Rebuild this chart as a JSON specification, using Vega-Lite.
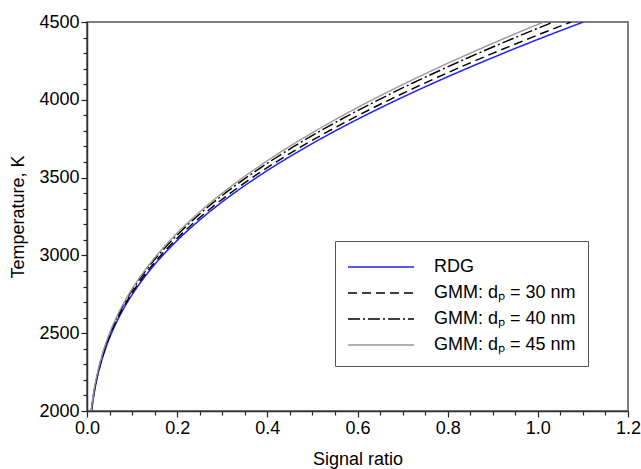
{
  "$schema": "https://vega.github.io/schema/vega-lite/v6.json",
  "width": 541,
  "height": 389,
  "autosize": {"type": "none"},
  "padding": {"left": 87, "top": 22, "right": 13, "bottom": 58},
  "background": "white",
  "config": {
    "view": {"stroke": "#555555", "strokeWidth": 1.5},
    "font": "Liberation Sans"
  },
  "data": {
    "values": [
      {"series": "RDG", "ratio": 0.01001, "T": 2000},
      {"series": "RDG", "ratio": 0.01497, "T": 2100},
      {"series": "RDG", "ratio": 0.02160, "T": 2200},
      {"series": "RDG", "ratio": 0.03017, "T": 2300},
      {"series": "RDG", "ratio": 0.04100, "T": 2400},
      {"series": "RDG", "ratio": 0.05435, "T": 2500},
      {"series": "RDG", "ratio": 0.07051, "T": 2600},
      {"series": "RDG", "ratio": 0.08974, "T": 2700},
      {"series": "RDG", "ratio": 0.11225, "T": 2800},
      {"series": "RDG", "ratio": 0.13825, "T": 2900},
      {"series": "RDG", "ratio": 0.16793, "T": 3000},
      {"series": "RDG", "ratio": 0.20146, "T": 3100},
      {"series": "RDG", "ratio": 0.23894, "T": 3200},
      {"series": "RDG", "ratio": 0.28044, "T": 3300},
      {"series": "RDG", "ratio": 0.32608, "T": 3400},
      {"series": "RDG", "ratio": 0.37591, "T": 3500},
      {"series": "RDG", "ratio": 0.42995, "T": 3600},
      {"series": "RDG", "ratio": 0.48820, "T": 3700},
      {"series": "RDG", "ratio": 0.55066, "T": 3800},
      {"series": "RDG", "ratio": 0.61724, "T": 3900},
      {"series": "RDG", "ratio": 0.68801, "T": 4000},
      {"series": "RDG", "ratio": 0.76278, "T": 4100},
      {"series": "RDG", "ratio": 0.84157, "T": 4200},
      {"series": "RDG", "ratio": 0.92423, "T": 4300},
      {"series": "RDG", "ratio": 1.01067, "T": 4400},
      {"series": "RDG", "ratio": 1.10100, "T": 4500},
      {"series": "GMM: dₚ = 30 nm", "ratio": 0.00976, "T": 2000},
      {"series": "GMM: dₚ = 30 nm", "ratio": 0.01460, "T": 2100},
      {"series": "GMM: dₚ = 30 nm", "ratio": 0.02106, "T": 2200},
      {"series": "GMM: dₚ = 30 nm", "ratio": 0.02942, "T": 2300},
      {"series": "GMM: dₚ = 30 nm", "ratio": 0.03998, "T": 2400},
      {"series": "GMM: dₚ = 30 nm", "ratio": 0.05299, "T": 2500},
      {"series": "GMM: dₚ = 30 nm", "ratio": 0.06875, "T": 2600},
      {"series": "GMM: dₚ = 30 nm", "ratio": 0.08750, "T": 2700},
      {"series": "GMM: dₚ = 30 nm", "ratio": 0.10944, "T": 2800},
      {"series": "GMM: dₚ = 30 nm", "ratio": 0.13479, "T": 2900},
      {"series": "GMM: dₚ = 30 nm", "ratio": 0.16373, "T": 3000},
      {"series": "GMM: dₚ = 30 nm", "ratio": 0.19642, "T": 3100},
      {"series": "GMM: dₚ = 30 nm", "ratio": 0.23297, "T": 3200},
      {"series": "GMM: dₚ = 30 nm", "ratio": 0.27343, "T": 3300},
      {"series": "GMM: dₚ = 30 nm", "ratio": 0.31793, "T": 3400},
      {"series": "GMM: dₚ = 30 nm", "ratio": 0.36651, "T": 3500},
      {"series": "GMM: dₚ = 30 nm", "ratio": 0.41920, "T": 3600},
      {"series": "GMM: dₚ = 30 nm", "ratio": 0.47600, "T": 3700},
      {"series": "GMM: dₚ = 30 nm", "ratio": 0.53689, "T": 3800},
      {"series": "GMM: dₚ = 30 nm", "ratio": 0.60181, "T": 3900},
      {"series": "GMM: dₚ = 30 nm", "ratio": 0.67081, "T": 4000},
      {"series": "GMM: dₚ = 30 nm", "ratio": 0.74371, "T": 4100},
      {"series": "GMM: dₚ = 30 nm", "ratio": 0.82053, "T": 4200},
      {"series": "GMM: dₚ = 30 nm", "ratio": 0.90112, "T": 4300},
      {"series": "GMM: dₚ = 30 nm", "ratio": 0.98540, "T": 4400},
      {"series": "GMM: dₚ = 30 nm", "ratio": 1.07348, "T": 4500},
      {"series": "GMM: dₚ = 40 nm", "ratio": 0.00941, "T": 2000},
      {"series": "GMM: dₚ = 40 nm", "ratio": 0.01407, "T": 2100},
      {"series": "GMM: dₚ = 40 nm", "ratio": 0.02030, "T": 2200},
      {"series": "GMM: dₚ = 40 nm", "ratio": 0.02836, "T": 2300},
      {"series": "GMM: dₚ = 40 nm", "ratio": 0.03854, "T": 2400},
      {"series": "GMM: dₚ = 40 nm", "ratio": 0.05109, "T": 2500},
      {"series": "GMM: dₚ = 40 nm", "ratio": 0.06628, "T": 2600},
      {"series": "GMM: dₚ = 40 nm", "ratio": 0.08436, "T": 2700},
      {"series": "GMM: dₚ = 40 nm", "ratio": 0.10552, "T": 2800},
      {"series": "GMM: dₚ = 40 nm", "ratio": 0.12996, "T": 2900},
      {"series": "GMM: dₚ = 40 nm", "ratio": 0.15785, "T": 3000},
      {"series": "GMM: dₚ = 40 nm", "ratio": 0.18937, "T": 3100},
      {"series": "GMM: dₚ = 40 nm", "ratio": 0.22460, "T": 3200},
      {"series": "GMM: dₚ = 40 nm", "ratio": 0.26361, "T": 3300},
      {"series": "GMM: dₚ = 40 nm", "ratio": 0.30652, "T": 3400},
      {"series": "GMM: dₚ = 40 nm", "ratio": 0.35336, "T": 3500},
      {"series": "GMM: dₚ = 40 nm", "ratio": 0.40415, "T": 3600},
      {"series": "GMM: dₚ = 40 nm", "ratio": 0.45891, "T": 3700},
      {"series": "GMM: dₚ = 40 nm", "ratio": 0.51762, "T": 3800},
      {"series": "GMM: dₚ = 40 nm", "ratio": 0.58021, "T": 3900},
      {"series": "GMM: dₚ = 40 nm", "ratio": 0.64673, "T": 4000},
      {"series": "GMM: dₚ = 40 nm", "ratio": 0.71701, "T": 4100},
      {"series": "GMM: dₚ = 40 nm", "ratio": 0.79108, "T": 4200},
      {"series": "GMM: dₚ = 40 nm", "ratio": 0.86878, "T": 4300},
      {"series": "GMM: dₚ = 40 nm", "ratio": 0.95003, "T": 4400},
      {"series": "GMM: dₚ = 40 nm", "ratio": 1.03494, "T": 4500},
      {"series": "GMM: dₚ = 45 nm", "ratio": 0.00921, "T": 2000},
      {"series": "GMM: dₚ = 45 nm", "ratio": 0.01377, "T": 2100},
      {"series": "GMM: dₚ = 45 nm", "ratio": 0.01987, "T": 2200},
      {"series": "GMM: dₚ = 45 nm", "ratio": 0.02776, "T": 2300},
      {"series": "GMM: dₚ = 45 nm", "ratio": 0.03772, "T": 2400},
      {"series": "GMM: dₚ = 45 nm", "ratio": 0.05000, "T": 2500},
      {"series": "GMM: dₚ = 45 nm", "ratio": 0.06487, "T": 2600},
      {"series": "GMM: dₚ = 45 nm", "ratio": 0.08256, "T": 2700},
      {"series": "GMM: dₚ = 45 nm", "ratio": 0.10327, "T": 2800},
      {"series": "GMM: dₚ = 45 nm", "ratio": 0.12719, "T": 2900},
      {"series": "GMM: dₚ = 45 nm", "ratio": 0.15450, "T": 3000},
      {"series": "GMM: dₚ = 45 nm", "ratio": 0.18534, "T": 3100},
      {"series": "GMM: dₚ = 45 nm", "ratio": 0.21982, "T": 3200},
      {"series": "GMM: dₚ = 45 nm", "ratio": 0.25800, "T": 3300},
      {"series": "GMM: dₚ = 45 nm", "ratio": 0.29999, "T": 3400},
      {"series": "GMM: dₚ = 45 nm", "ratio": 0.34584, "T": 3500},
      {"series": "GMM: dₚ = 45 nm", "ratio": 0.39555, "T": 3600},
      {"series": "GMM: dₚ = 45 nm", "ratio": 0.44914, "T": 3700},
      {"series": "GMM: dₚ = 45 nm", "ratio": 0.50661, "T": 3800},
      {"series": "GMM: dₚ = 45 nm", "ratio": 0.56786, "T": 3900},
      {"series": "GMM: dₚ = 45 nm", "ratio": 0.63297, "T": 4000},
      {"series": "GMM: dₚ = 45 nm", "ratio": 0.70176, "T": 4100},
      {"series": "GMM: dₚ = 45 nm", "ratio": 0.77424, "T": 4200},
      {"series": "GMM: dₚ = 45 nm", "ratio": 0.85029, "T": 4300},
      {"series": "GMM: dₚ = 45 nm", "ratio": 0.92982, "T": 4400},
      {"series": "GMM: dₚ = 45 nm", "ratio": 1.01292, "T": 4500}
    ]
  },
  "mark": {"type": "line", "interpolate": "monotone", "clip": true},
  "encoding": {
    "x": {
      "field": "ratio",
      "type": "quantitative",
      "scale": {"domain": [0, 1.2], "nice": false, "zero": false},
      "axis": {
        "title": "Signal ratio",
        "titleFont": "Liberation Sans",
        "titleFontSize": 18,
        "titleFontWeight": "normal",
        "titleColor": "black",
        "titlePadding": 13,
        "values": [0, 0.05, 0.1, 0.15, 0.2, 0.25, 0.3, 0.35, 0.4, 0.45, 0.5, 0.55, 0.6, 0.65, 0.7, 0.75, 0.8, 0.85, 0.9, 0.95, 1.0, 1.05, 1.1, 1.15, 1.2],
        "labelExpr": "abs(datum.value*5 - round(datum.value*5)) < 0.001 ? format(datum.value, '.1f') : ''",
        "labelFont": "Liberation Sans",
        "labelFontSize": 18,
        "labelColor": "black",
        "labelPadding": 2,
        "labelFlush": false,
        "labelOverlap": false,
        "domainColor": "#333333",
        "domainWidth": 1.5,
        "tickColor": "#222222",
        "tickWidth": 1.2,
        "tickSize": {"condition": {"test": "abs(datum.value*5 - round(datum.value*5)) < 0.001", "value": 6}, "value": 4},
        "grid": false
      }
    },
    "y": {
      "field": "T",
      "type": "quantitative",
      "scale": {"domain": [2000, 4500], "nice": false, "zero": false},
      "axis": {
        "title": "Temperature, K",
        "titleFont": "Liberation Sans",
        "titleFontSize": 18,
        "titleFontWeight": "normal",
        "titleColor": "black",
        "titlePadding": 11,
        "values": [2000, 2100, 2200, 2300, 2400, 2500, 2600, 2700, 2800, 2900, 3000, 3100, 3200, 3300, 3400, 3500, 3600, 3700, 3800, 3900, 4000, 4100, 4200, 4300, 4400, 4500],
        "labelExpr": "datum.value % 500 === 0 ? format(datum.value, 'd') : ''",
        "labelFont": "Liberation Sans",
        "labelFontSize": 18,
        "labelColor": "black",
        "labelPadding": 2,
        "labelFlush": false,
        "labelOverlap": false,
        "domainColor": "#333333",
        "domainWidth": 1.5,
        "tickColor": "#222222",
        "tickWidth": 1.2,
        "tickSize": {"condition": {"test": "datum.value % 500 === 0", "value": 6}, "value": 4},
        "grid": false
      }
    },
    "color": {
      "field": "series",
      "type": "nominal",
      "scale": {
        "domain": ["RDG", "GMM: dₚ = 30 nm", "GMM: dₚ = 40 nm", "GMM: dₚ = 45 nm"],
        "range": ["#1f1fff", "#000000", "#000000", "#999999"]
      },
      "legend": {
        "title": null,
        "orient": "none",
        "legendX": 248,
        "legendY": 219,
        "symbolType": "M-2.54,0H2.54",
        "symbolSize": 676,
        "symbolOffset": 20,
        "symbolStrokeWidth": 1.5,
        "labelFont": "Liberation Sans",
        "labelFontSize": 18,
        "labelColor": "black",
        "labelOffset": 39,
        "labelLimit": 400,
        "rowPadding": 3,
        "padding": 12,
        "strokeColor": "#555555",
        "fillColor": "white"
      }
    },
    "strokeDash": {
      "field": "series",
      "type": "nominal",
      "scale": {
        "domain": ["RDG", "GMM: dₚ = 30 nm", "GMM: dₚ = 40 nm", "GMM: dₚ = 45 nm"],
        "range": [[1, 0], [9, 5], [12, 3, 2, 3], [1, 0]]
      },
      "legend": {
        "title": null,
        "orient": "none",
        "legendX": 248,
        "legendY": 219,
        "symbolType": "M-2.54,0H2.54",
        "symbolSize": 676,
        "symbolOffset": 20,
        "symbolStrokeWidth": 1.5,
        "labelFont": "Liberation Sans",
        "labelFontSize": 18,
        "labelColor": "black",
        "labelOffset": 39,
        "labelLimit": 400,
        "rowPadding": 3,
        "padding": 12,
        "strokeColor": "#555555",
        "fillColor": "white"
      }
    },
    "strokeWidth": {
      "field": "series",
      "type": "nominal",
      "scale": {
        "domain": ["RDG", "GMM: dₚ = 30 nm", "GMM: dₚ = 40 nm", "GMM: dₚ = 45 nm"],
        "range": [1.5, 1.4, 1.3, 1]
      },
      "legend": null
    }
  }
}
